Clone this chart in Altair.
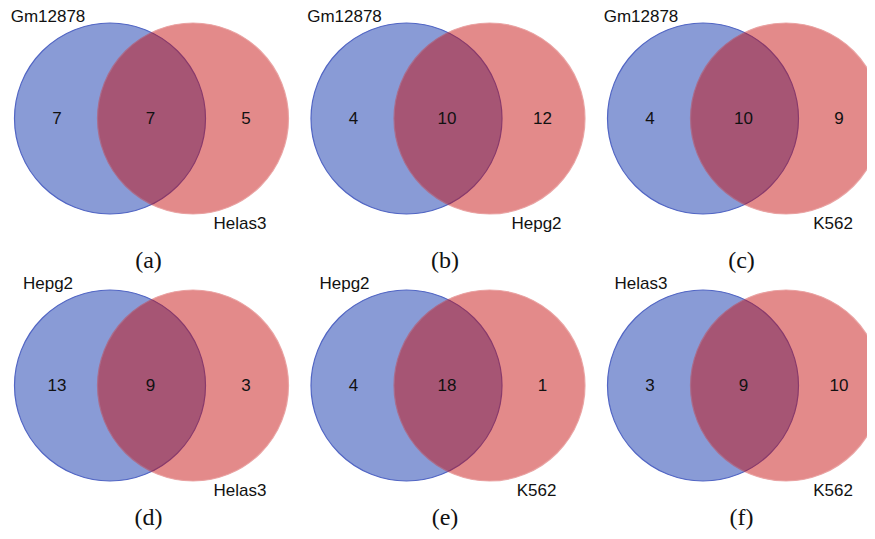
import altair as alt
import pandas as pd

# ---- data ----
left_names = ["Gm12878", "Gm12878", "Gm12878", "Hepg2", "Hepg2", "Helas3"]
right_names = ["Helas3", "Hepg2", "K562", "Helas3", "K562", "K562"]
left_only = [7, 4, 4, 13, 4, 3]
shared = [7, 10, 10, 9, 18, 9]
right_only = [5, 12, 9, 3, 1, 10]
captions = ["(a)", "(b)", "(c)", "(d)", "(e)", "(f)"]

# ---- layout (chart coordinates, px within plot area) ----
W, H = 859, 523
R = 95.5
COL_STEP, ROW_STEP = 296.5, 267
X0, Y0 = 102, 110.5      # first blue centre
SEP = 83                 # distance between circle centres
CAP_DY = [142, 132.5]    # caption offset below circle centre, per row

circles, numbers, labels, caps = [], [], [], []
for i in range(6):
    col, row = i % 3, i // 3
    bx = X0 + COL_STEP * col
    cy = Y0 + ROW_STEP * row
    rx = bx + SEP
    circles.append({"panel": i, "set": "left", "x": bx, "y": cy})
    circles.append({"panel": i, "set": "right", "x": rx, "y": cy})
    numbers.append({"x": bx - 53, "y": cy, "t": str(left_only[i])})
    numbers.append({"x": (bx + rx) / 2 - 1, "y": cy, "t": str(shared[i])})
    numbers.append({"x": rx + 53, "y": cy, "t": str(right_only[i])})
    labels.append({"x": bx - 62, "y": cy - 101.5, "t": left_names[i]})
    labels.append({"x": rx + 47, "y": cy + 105.5, "t": right_names[i]})
    caps.append({"x": (bx + rx) / 2 - 3, "y": cy + CAP_DY[row], "t": captions[i]})

circ = pd.DataFrame(circles)
nums = pd.DataFrame(numbers)
labs = pd.DataFrame(labels)
capd = pd.DataFrame(caps)

xs = alt.Scale(domain=[0, W], nice=False, zero=False)
ys = alt.Scale(domain=[0, H], nice=False, zero=False, reverse=True)
X = lambda: alt.X("x:Q", scale=xs, axis=None)
Y = lambda: alt.Y("y:Q", scale=ys, axis=None)
size = (2 * R) ** 2   # Vega symbol size = area of bounding square

blue = alt.Chart(circ).transform_filter(alt.datum.set == "left").mark_circle(
    size=size, color="#899BD6", opacity=1, stroke="#5266C4", strokeWidth=1.2
).encode(x=X(), y=Y())

red = alt.Chart(circ).transform_filter(alt.datum.set == "right").mark_circle(
    size=size, color="#C60A0A", opacity=0.475, stroke="#D03A3A", strokeWidth=1.2,
    strokeOpacity=0.9
).encode(x=X(), y=Y())

num_t = alt.Chart(nums).mark_text(
    font="Liberation Sans", fontSize=17, color="#111111", align="center", baseline="middle"
).encode(x=X(), y=Y(), text="t:N")

lab_t = alt.Chart(labs).mark_text(
    font="Liberation Sans", fontSize=17, color="#111111", align="center", baseline="middle"
).encode(x=X(), y=Y(), text="t:N")

cap_t = alt.Chart(capd).mark_text(
    font="Liberation Serif", fontSize=24, color="#111111", align="center", baseline="middle"
).encode(x=X(), y=Y(), text="t:N")

chart = alt.layer(blue, red, num_t, lab_t, cap_t).properties(
    width=W, height=H, padding=0,
    autosize=alt.AutoSizeParams(type="none"),
).configure(background="white").configure_view(stroke=None)

chart.save("out.html", embed_options={"renderer": "svg", "actions": False})
